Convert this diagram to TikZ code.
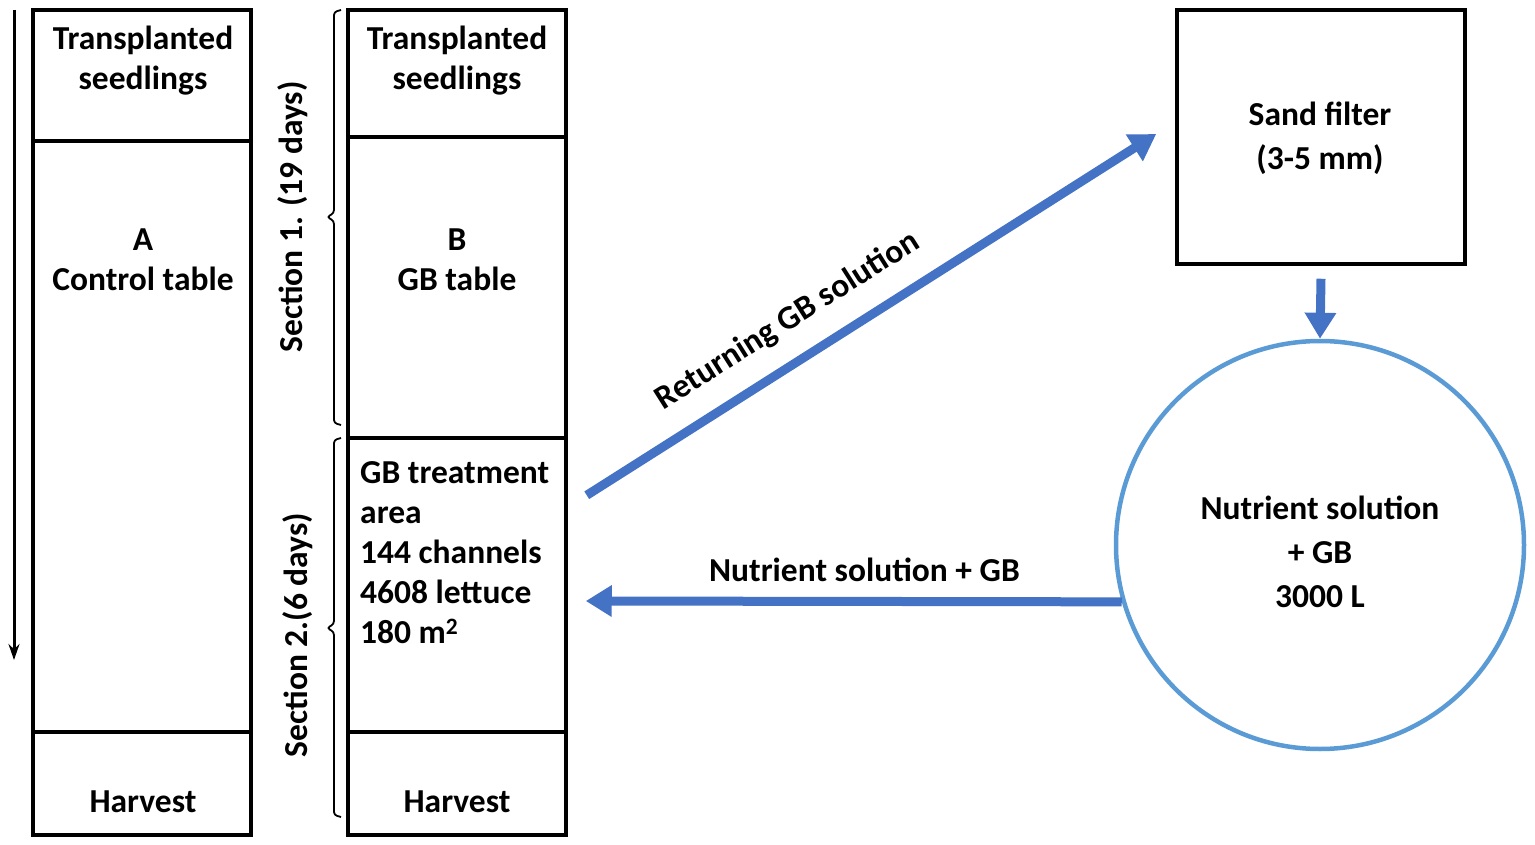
\documentclass[tikz,border=0pt]{standalone}
\usepackage{fontspec}
\setmainfont{Carlito}
\usetikzlibrary{arrows.meta,calc}
\definecolor{arrowblue}{RGB}{68,114,196}
\definecolor{circblue}{RGB}{91,155,213}
\begin{document}
\begin{tikzpicture}[x=1pt,y=-1pt,
  cell/.style={draw, line width=3.5pt, rectangle, inner sep=0pt, minimum width=218pt},
  txt/.style={font=\fontsize{33.5}{40}\selectfont\bfseries, inner sep=0pt, align=center},
  wtxt/.style={font=\fontsize{33.5}{44}\selectfont\bfseries, inner sep=0pt, align=center},
  bluearrow/.style={draw=arrowblue, line width=9pt, -{Triangle[length=26pt,width=30pt]}},
  bracestyle/.style={draw, line width=1.8pt, rounded corners=3pt}
]
\useasboundingbox (0,0) rectangle (1535,845);
% column A
\node[cell, minimum height=131pt] (A1) at (142,75.5) {};
\node[cell, minimum height=591pt] (A2) at (142,436.5) {};
\node[cell, minimum height=103pt] (A3) at (142,783.5) {};
% column B
\node[cell, minimum height=127pt] (B1) at (457,73.5) {};
\node[cell, minimum height=301pt] (B2) at (457,287.5) {};
\node[cell, minimum height=294pt] (B3) at (457,585) {};
\node[cell, minimum height=103pt] (B4) at (457,783.5) {};
% sand filter and tank
\node[cell, minimum width=288pt, minimum height=254pt] (sand) at (1321,137) {};
\node[draw=circblue, line width=4.5pt, circle, minimum size=408pt, inner sep=0pt] (tank) at (1320,545) {};
% texts
\node[txt] (tA1) at (143,61) {Transplanted\\seedlings};
\node[txt] (tA2) at (143,260) {A\\Control table};
\node[txt] (tA3) at (143,802) {Harvest};
\node[txt] (tB1) at (457,61) {Transplanted\\seedlings};
\node[txt] (tB2) at (457,260) {B\\GB table};
\node[txt, align=left, anchor=west] (tB3) at (360,553) {GB treatment\\area\\144 channels\\4608 lettuce\\180 m\textsuperscript{2}};
\node[txt] (tB4) at (457,802) {Harvest};
\node[wtxt] (tsand) at (1320,138) {Sand filter\\(3-5 mm)};
\node[wtxt] (ttank) at (1320,552) {Nutrient solution\\+ GB\\3000 L};
\node[txt, rotate=90] (s1) at (293,217) {Section 1. (19 days)};
\node[txt, rotate=90] (s2) at (298,635) {Section 2.(6 days)};
% brackets
\coordinate (b1t) at (341,10);
\coordinate (b1b) at (341,425);
\coordinate (b2t) at (341,438);
\coordinate (b2b) at (341,817);
\draw[bracestyle] (b1t) -- ++(-7,2) -- (334,213) -- (327,217) -- (334,221) -- (334,423) -- (b1b);
\draw[bracestyle] (b2t) -- ++(-7,2) -- (334,624) -- (327,628) -- (334,632) -- (334,815) -- (b2b);
% time arrow
\coordinate (ttop) at (14,10);
\coordinate (tbot) at (14,660);
\draw[line width=3pt, -{Stealth[length=16pt,width=11pt]}] (ttop) -- (tbot);
% blue arrows
\draw[bluearrow] ([xshift=19pt,yshift=-59pt]B3.north east) -- node[txt, pos=0.39, above=20pt, sloped] (lret) {Returning GB solution} ([xshift=-19pt,yshift=3pt]sand.west);
\draw[bluearrow] ([yshift=-13pt]sand.south) -- (tank.north);
\draw[bluearrow] (tank.196) -- node[txt, pos=0.48, above=15pt] (lnut) {Nutrient solution + GB} ([xshift=18pt,yshift=-16pt]B3.east);
\end{tikzpicture}
\end{document}
